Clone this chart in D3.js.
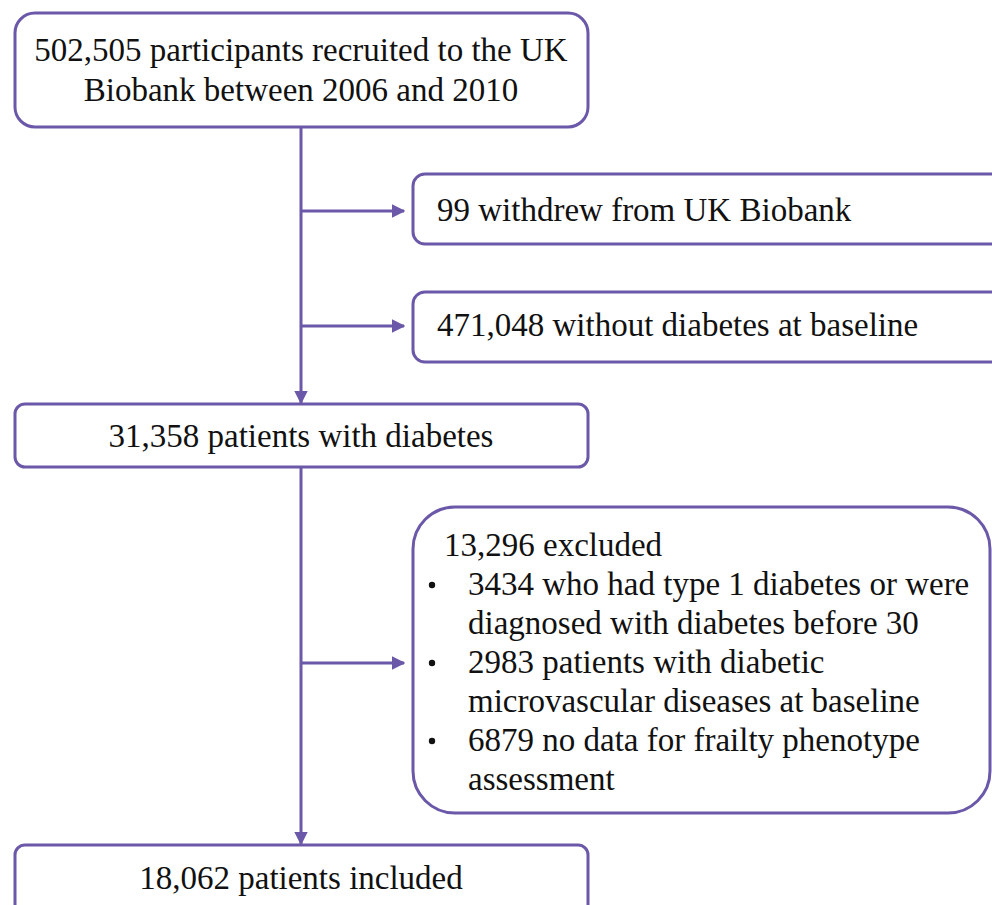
<!DOCTYPE html>
<html>
<head>
<meta charset="utf-8">
<script src="https://cdn.jsdelivr.net/npm/d3@7"></script>
<style>
  body { margin: 0; background: #fff; }
  svg { display: block; }
  text { font-family: "Liberation Serif", "Times New Roman", Tinos, "DejaVu Serif", serif; }
</style>
</head>
<body>
<div id="flow"></div>
<script>
// flowchart content
var mainSteps = [
    ["502,505 participants recruited to the UK", "Biobank between 2006 and 2010"],
    ["31,358 patients with diabetes"],
    ["18,062 patients included"]
];
var sideSteps = [
    "99 withdrew from UK Biobank",
    "471,048 without diabetes at baseline"
];
var excludedTitle = "13,296 excluded";
var excludedItems = [
    ["3434 who had type 1 diabetes or were", "diagnosed with diabetes before 30"],
    ["2983 patients with diabetic", "microvascular diseases at baseline"],
    ["6879 no data for frailty phenotype", "assessment"]
];

var W = 992, H = 905;
var purple = "#6b58a9";
var fontSize = 33;
var lineH = 39;

var svg = d3.select("#flow").append("svg")
    .attr("width", W)
    .attr("height", H);

var defs = svg.append("defs");
defs.append("marker")
    .attr("id", "arr")
    .attr("viewBox", "0 0 10 10")
    .attr("refX", 9).attr("refY", 5)
    .attr("markerWidth", 4.5).attr("markerHeight", 4.5)
    .attr("orient", "auto")
    .append("path")
    .attr("d", "M0,0 L10,5 L0,10 z")
    .attr("fill", purple);

// boxes: main column left, side column right
var mainX = 15, mainW = 573, spineX = 301;
var sideX = 413;

var mainBoxes = [
    {y: 13, h: 114, r: 20},
    {y: 404, h: 63, r: 10},
    {y: 845, h: 90, r: 10}
];
var sideBoxes = [
    {y: 174, h: 70, r: 12},
    {y: 292, h: 70, r: 12}
];
var bigBox = {x: sideX, y: 507, w: 577, h: 306, r: 42};

function box(x, y, w, h, r) {
    svg.append("rect")
        .attr("x", x).attr("y", y)
        .attr("width", w).attr("height", h)
        .attr("rx", r).attr("ry", r)
        .attr("fill", "#fff")
        .attr("stroke", purple)
        .attr("stroke-width", 3);
}

function line(x1, y1, x2, y2, arrow) {
    var l = svg.append("line")
        .attr("x1", x1).attr("y1", y1)
        .attr("x2", x2).attr("y2", y2)
        .attr("stroke", purple)
        .attr("stroke-width", 3);
    if (arrow) l.attr("marker-end", "url(#arr)");
}

// connectors first so boxes sit on top
line(spineX, 127, spineX, 403, true);
line(spineX, 467, spineX, 844, true);
line(spineX, 211, sideX - 9, 211, true);
line(spineX, 326, sideX - 9, 326, true);
line(spineX, 663, sideX - 9, 663, true);

mainBoxes.forEach(function(b) { box(mainX, b.y, mainW, b.h, b.r); });
sideBoxes.forEach(function(b) { box(sideX, b.y, 640, b.h, b.r); });
box(bigBox.x, bigBox.y, bigBox.w, bigBox.h, bigBox.r);

function text(x, y, str, anchor) {
    svg.append("text")
        .attr("x", x).attr("y", y)
        .attr("text-anchor", anchor || "start")
        .attr("font-size", fontSize)
        .attr("fill", "#111")
        .text(str);
}

// main column labels
var mainBaselines = [61, 447, 889];
mainSteps.forEach(function(lines, i) {
    lines.forEach(function(s, j) {
        text(spineX, mainBaselines[i] + j * 40, s, "middle");
    });
});

// side boxes
var sideBaselines = [221, 336];
sideSteps.forEach(function(s, i) { text(437, sideBaselines[i], s); });

// exclusion box
text(444, 556, excludedTitle);
var row = 1;
excludedItems.forEach(function(item) {
    svg.append("circle")
        .attr("cx", 432).attr("cy", 556 + row * lineH - 10)
        .attr("r", 3.2)
        .attr("fill", "#111");
    item.forEach(function(s) {
        text(468, 556 + row * lineH, s);
        row++;
    });
});
</script>
</body>
</html>
